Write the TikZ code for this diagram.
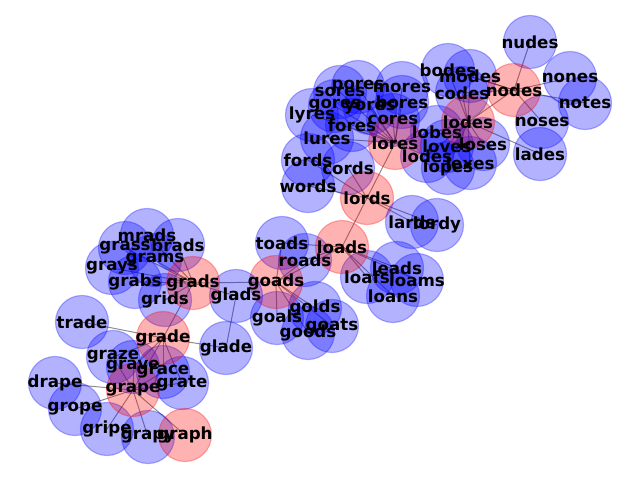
\documentclass[tikz,border=0pt]{standalone}
\usepackage{fontspec}
\setmainfont{DejaVu Sans}
\usetikzlibrary{backgrounds}
\tikzset{
  circ/.style={circle, minimum size=38.2pt, inner sep=0pt, line width=0.8pt, opacity=0.3},
  bn/.style={circ, fill=blue, draw=blue},
  rn/.style={circ, fill=red, draw=red},
  lbl/.style={inner sep=0pt, font=\fontsize{12}{14}\selectfont\bfseries, text=black},
  edge/.style={draw=black, opacity=0.45, line width=0.7pt}
}
\begin{document}
\begin{tikzpicture}[x=0.72pt, y=-0.72pt]
\useasboundingbox (0,0) rectangle (640,480);
% circles
\foreach \n/\x/\y/\s in {
 nudes/530/42/bn, nones/570/78/bn, notes/585/103/bn, noses/542/122/bn, lades/540/154/bn,
 bodes/448/70/bn, modes/470/76/bn, codes/462/93/bn, nodes/514/90/rn,
 lobes/437/132/bn, loves/447/146/bn, loses/483/144/bn, lodesb/427/156/bn, lopes/448/168/bn, lexes/470/163/bn, lodes/468/122/rn,
 sores/340/92/bn, pores/358/87/bn, mores/402/88/bn, gores/335/106/bn, yores/370/108/bn, bores/402/102/bn,
 fores/352/125/bn, cores/393/120/bn, lyres/312/115/bn, lures/327/138/bn, lores/395/143/rn,
 fords/308/160/bn, cords/348/168/bn, words/308/186/bn, lords/367/198/rn,
 lards/412/222/bn, lordy/437/225/bn, toads/282/243/bn, roads/305/260/bn, leads/397/268/bn,
 loafs/367/277/bn, loams/417/280/bn, loans/393/296/bn, loads/342/247/rn,
 golds/315/308/bn, goals/277/318/bn, goats/332/326/bn, goods/308/333/bn, goads/276/282/rn,
 mrads/147/235/bn, brads/178/245/bn, grass/125/248/bn, grams/155/260/bn, grays/112/268/bn,
 grabs/135/282/bn, grids/165/300/bn, glads/236/296/bn, glade/226/348/bn, grads/193/283/rn,
 trade/82/322/bn, graze/113/357/bn, grave/133/367/bn, grace/163/372/bn, grate/182/383/bn, grade/163/338/rn,
 drape/55/383/bn, grope/75/409/bn, gripe/107/429/bn, grapy/148/437/bn, grape/133/390/rn, graph/185/435/rn}
 {\node[\s] (\n) at (\x,\y) {};}
% edges
\begin{scope}[on background layer]
\foreach \a/\b in {
 nodes/nudes, nodes/nones, nodes/notes, nodes/noses, nodes/codes, nodes/modes, nodes/bodes, nodes/lodes,
 lodes/lades, lodes/lobes, lodes/loves, lodes/loses, lodes/lopes, lodes/lexes, lodes/lodesb, lodes/codes, lodes/modes, lodes/bodes, lodes/lores,
 lores/sores, lores/pores, lores/mores, lores/gores, lores/yores, lores/bores, lores/cores, lores/fores, lores/lyres, lores/lures, lores/lodesb, lores/lords,
 lords/fords, lords/cords, lords/words, lords/lards, lords/lordy, lords/loads,
 loads/toads, loads/roads, loads/goads, loads/leads, loads/loafs, loads/loams, loads/loans,
 goads/golds, goads/goals, goads/goats, goads/goods, goads/toads, goads/roads, goads/grads,
 grads/glads, grads/brads, grads/mrads, grads/grams, grads/grabs, grads/grass, grads/grays, grads/grids, grads/grade,
 grade/trade, grade/glade, grade/graze, grade/grave, grade/grace, grade/grate, grade/grape, glads/glade,
 grape/drape, grape/grope, grape/gripe, grape/grapy, grape/graph, grape/graze, grape/grave, grape/grace, grape/grate}
 {\draw[edge] (\a.center) -- (\b.center);}
\end{scope}
% labels
\foreach \n/\t in {
 nudes/nudes, nones/nones, notes/notes, noses/noses, lades/lades, bodes/bodes, modes/modes, codes/codes, nodes/nodes,
 lobes/lobes, loves/loves, loses/loses, lodesb/lodes, lopes/lopes, lexes/lexes, lodes/lodes,
 sores/sores, pores/pores, mores/mores, gores/gores, yores/yores, bores/bores, fores/fores, cores/cores,
 lyres/lyres, lures/lures, lores/lores, fords/fords, cords/cords, words/words, lords/lords,
 lards/lards, lordy/lordy, toads/toads, roads/roads, leads/leads, loafs/loafs, loams/loams, loans/loans, loads/loads,
 golds/golds, goals/goals, goats/goats, goods/goods, goads/goads,
 mrads/mrads, brads/brads, grass/grass, grams/grams, grays/grays, grabs/grabs, grids/grids, glads/glads, glade/glade, grads/grads,
 trade/trade, graze/graze, grave/grave, grace/grace, grate/grate, grade/grade,
 drape/drape, grope/grope, gripe/gripe, grapy/grapy, grape/grape, graph/graph}
 {\node[lbl] (t\n) at (\n) {\t};}
\end{tikzpicture}
\end{document}
